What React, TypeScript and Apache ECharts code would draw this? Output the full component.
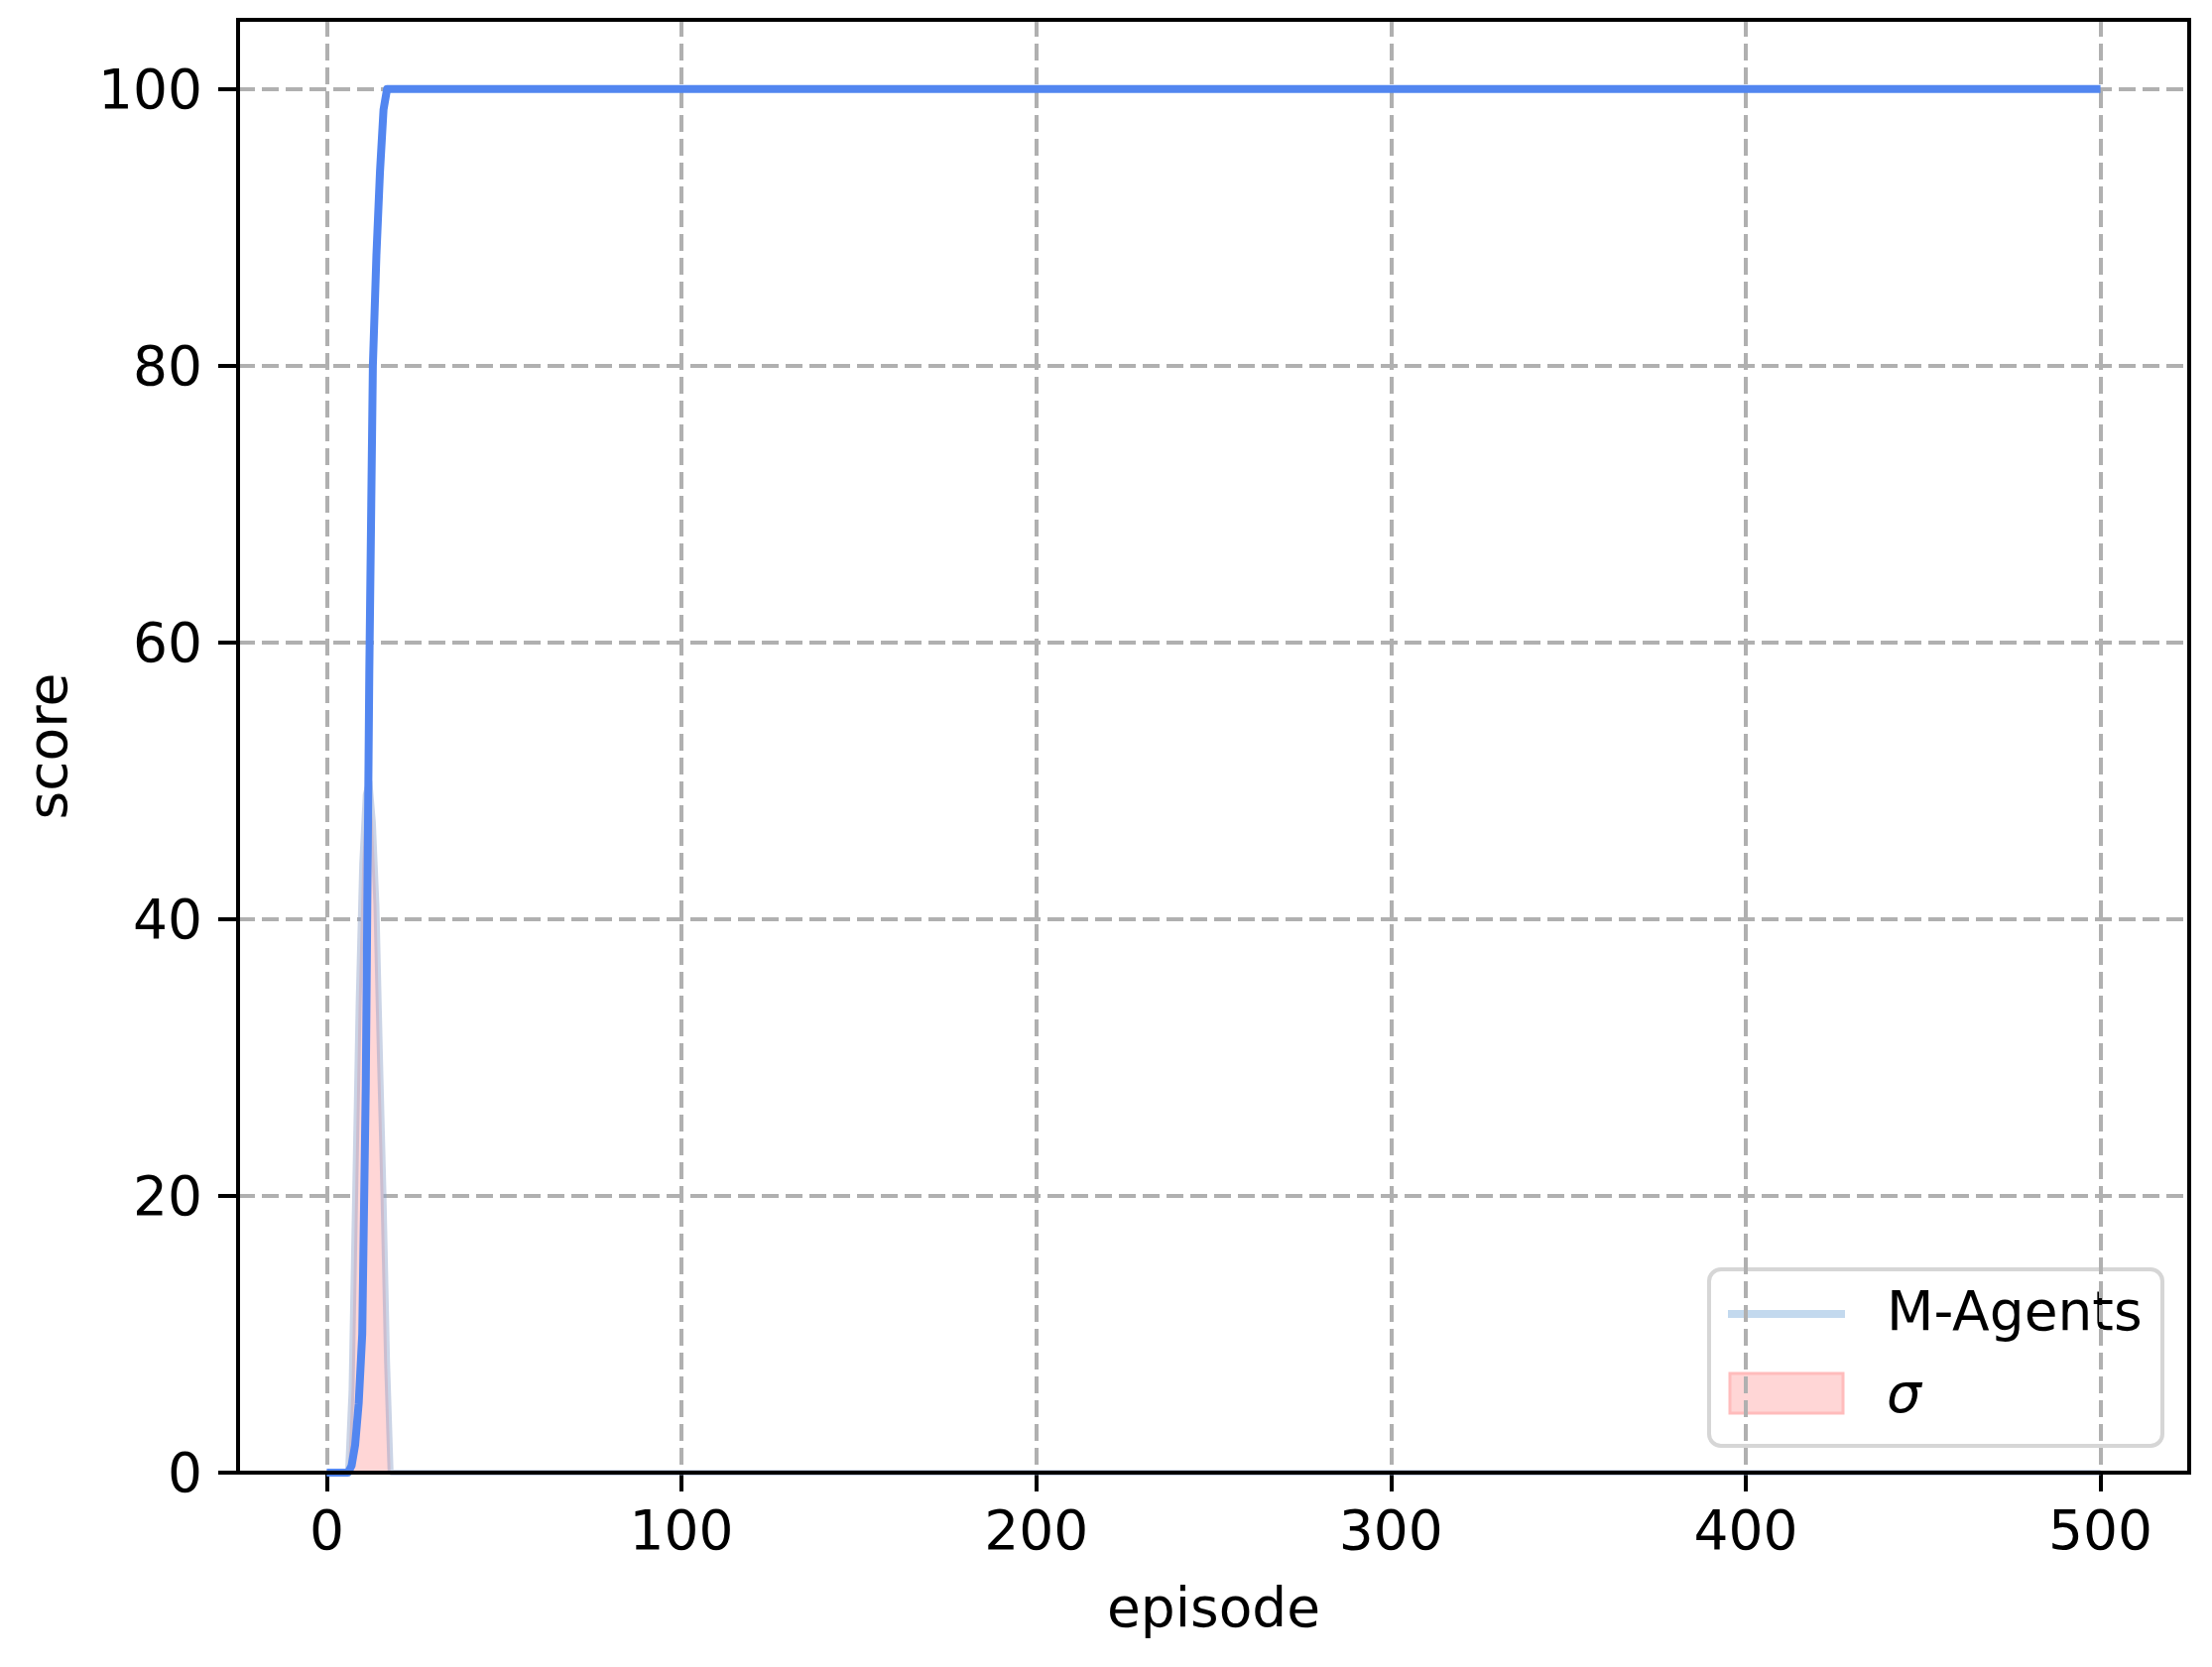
import React, { useEffect, useRef } from "react";
import * as echarts from "echarts";

const episodes = [0, 1, 2, 3, 4, 5, 6, 7, 8, 9, 10, 11, 12, 13, 14, 15, 16, 17, 18, 500];
const meanScore = [0, 0, 0, 0, 0, 0, 0, 0.5, 2, 5, 10, 28, 58, 80, 88, 94, 98.5, 100, 100, 100];
const sigmaScore = [0, 0, 0, 0, 0, 0, 0, 6, 20, 34, 44, 49, 50, 47, 41, 30, 20, 8, 0, 0];
const xTicks = [0, 100, 200, 300, 400, 500];
const yTicks = [0, 20, 40, 60, 80, 100];
const legendNames = ["M-Agents", "σ"];

const FONT = "DejaVu Sans";

export default function App() {
  const ref = useRef<HTMLDivElement>(null);
  useEffect(() => {
    document.body.style.margin = "0";
    const chart = echarts.init(ref.current!, null, { renderer: "svg" });
    const meanData = episodes.map((e, i) => [e, meanScore[i]]);
    const sigmaData = episodes.map((e, i) => [e, sigmaScore[i]]);
    const gridStyle = { color: "#b0b0b0", width: 4, type: [17, 7] as any };
    const axisLineStyle = { color: "#000", width: 4 };
    chart.setOption({
      animation: false,
      backgroundColor: "#ffffff",
      grid: {
        left: 240,
        right: 23,
        top: 20,
        bottom: 196,
        show: true,
        borderColor: "#000",
        borderWidth: 4,
        z: 10,
      },
      xAxis: {
        type: "value",
        position: "bottom",
        min: -25,
        max: 525,
        name: "episode",
        nameLocation: "middle",
        nameGap: 108,
        nameTextStyle: { fontFamily: FONT, fontSize: 55, color: "#000" },
        axisLine: { show: true, onZero: false, lineStyle: axisLineStyle },
        axisTick: { show: true, length: 19, inside: false, customValues: xTicks, lineStyle: { color: "#000", width: 4 } },
        axisLabel: { customValues: xTicks, margin: 30, fontFamily: FONT, fontSize: 55, color: "#000" },
        splitLine: { show: true, lineStyle: gridStyle },
      },
      yAxis: {
        type: "value",
        position: "left",
        min: 0,
        max: 105,
        name: "score",
        nameLocation: "middle",
        nameGap: 165,
        nameTextStyle: { fontFamily: FONT, fontSize: 55, color: "#000" },
        axisLine: { show: true, onZero: false, lineStyle: axisLineStyle },
        axisTick: { show: true, length: 20, inside: false, customValues: yTicks, lineStyle: { color: "#000", width: 4 } },
        axisLabel: { customValues: yTicks, margin: 36, fontFamily: FONT, fontSize: 55, color: "#000" },
        splitLine: { show: true, lineStyle: gridStyle },
      },
      series: [
        {
          name: legendNames[1],
          type: "line",
          data: sigmaData,
          showSymbol: false,
          lineStyle: { color: "rgba(140,160,200,0.45)", width: 6 },
          areaStyle: { color: "#ffd6d6", opacity: 1, origin: "start" },
          z: 2,
        },
        {
          name: legendNames[0],
          type: "line",
          data: meanData,
          showSymbol: false,
          lineStyle: { color: "#5286f0", width: 8, cap: "butt", join: "round" },
          z: 3,
        },
      ],
      graphic: [
        {
          type: "group",
          z: 100,
          children: [
            {
              type: "rect",
              shape: { x: 1723, y: 1280, width: 457, height: 178, r: 12 },
              style: { fill: "rgba(255,255,255,0.8)", stroke: "#d6d6d6", lineWidth: 4 },
            },
            {
              type: "line",
              shape: { x1: 1742, y1: 1325, x2: 1860, y2: 1325 },
              style: { stroke: "#c3d9ee", lineWidth: 8 },
            },
            {
              type: "rect",
              shape: { x: 1744, y: 1385, width: 114, height: 40 },
              style: { fill: "#ffd6d6", stroke: "#ffbcbc", lineWidth: 3 },
            },
            {
              type: "text",
              x: 1902,
              y: 1322,
              style: { text: legendNames[0], font: `55px "${FONT}"`, fill: "#000", verticalAlign: "middle", align: "left" },
            },
            {
              type: "text",
              x: 1902,
              y: 1405,
              style: { text: legendNames[1], font: `italic 55px "${FONT}"`, fill: "#000", verticalAlign: "middle", align: "left" },
            },
          ],
        },
      ],
    });
    return () => chart.dispose();
  }, []);
  return <div ref={ref} style={{ position: "fixed", left: 0, top: 0, width: 2230, height: 1681 }} />;
}
